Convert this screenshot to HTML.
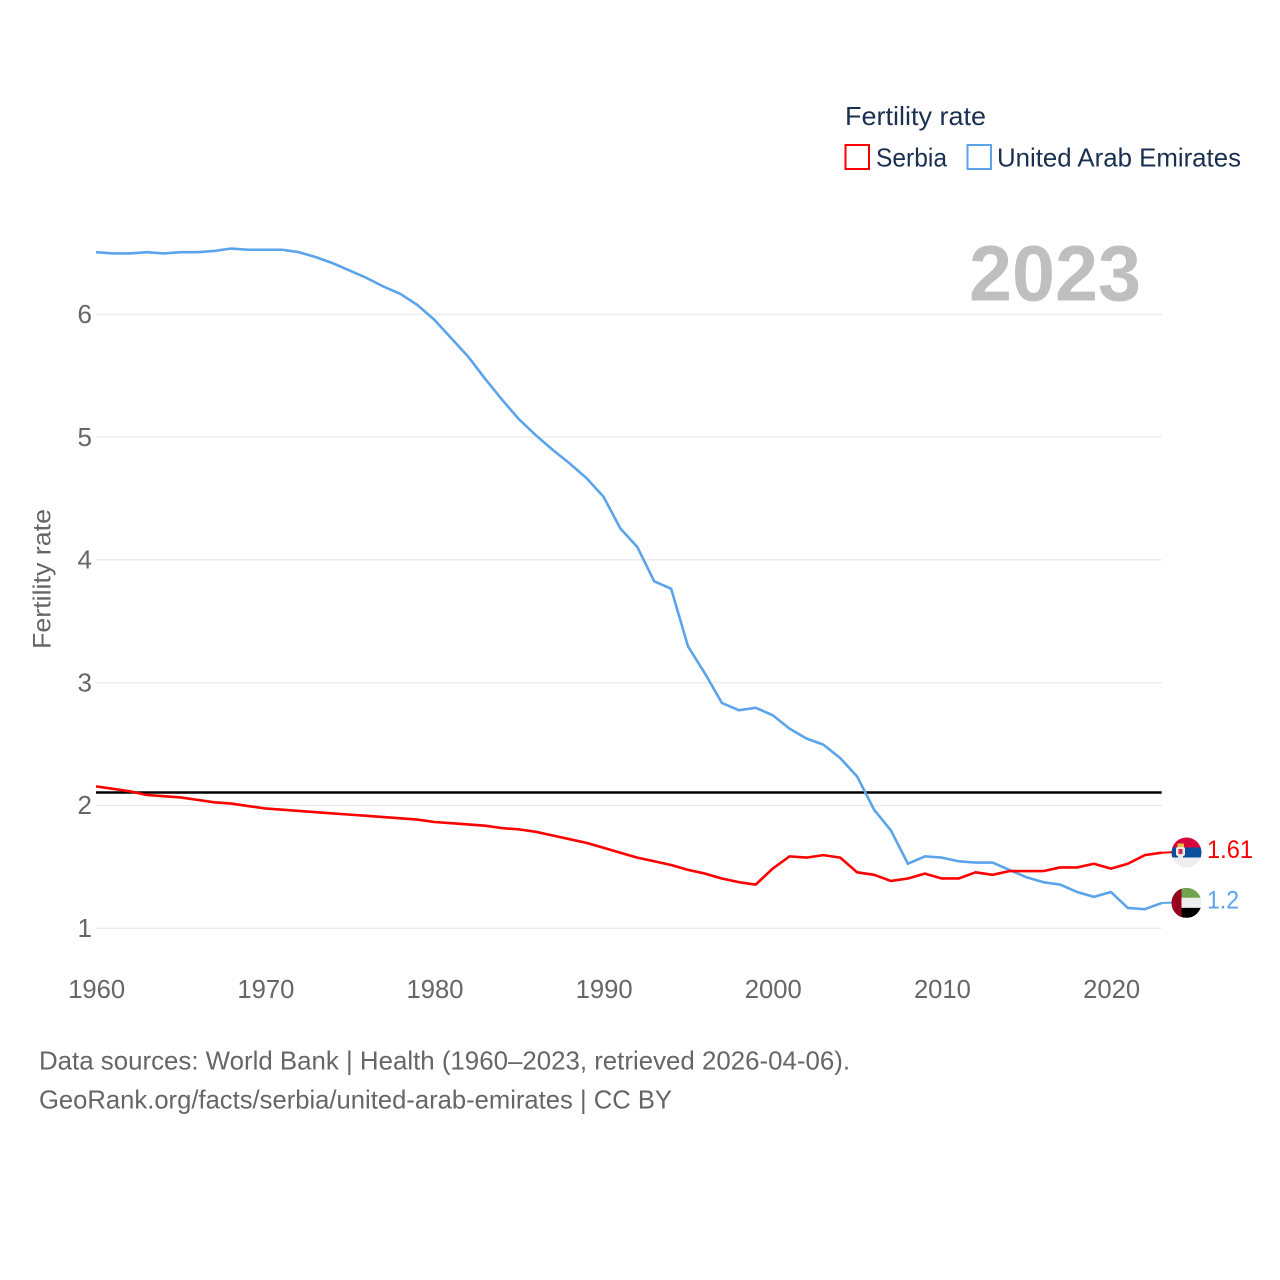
<!DOCTYPE html>
<html lang="en">
<head>
<meta charset="utf-8">
<title>Fertility rate: Serbia and United Arab Emirates</title>
<style>
html,body{margin:0;padding:0;background:#fff;width:1280px;height:1280px;overflow:hidden}
svg{display:block}
text{font-family:"Liberation Sans",sans-serif}
</style>
</head>
<body>
<svg id="chart" width="1280" height="1280" viewBox="0 0 1280 1280" xmlns="http://www.w3.org/2000/svg">
  <defs>
    <clipPath id="clip-rs"><circle cx="0" cy="0" r="15"></circle></clipPath>
    <clipPath id="clip-ae"><circle cx="0" cy="0" r="15"></circle></clipPath>
  </defs>
  <g id="grid"></g>
  <g id="yticks"></g>
  <g id="xticks"></g>

  <text transform="translate(50.500,649) rotate(-90)" font-size="25" fill="#666" textLength="140" lengthAdjust="spacingAndGlyphs">Fertility rate</text>

  <text x="969" y="300.500" font-size="79" font-weight="700" fill="#bfbfbf" textLength="172" lengthAdjust="spacingAndGlyphs">2023</text>

  <g>
    <text x="845" y="125" font-size="26" fill="#1a3050" textLength="141" lengthAdjust="spacingAndGlyphs">Fertility rate</text>
    <rect x="845.5" y="145" width="23.5" height="24" fill="#fff" stroke="#ff0000" stroke-width="2"></rect>
    <text x="876" y="166.500" font-size="26" fill="#1a3050" textLength="71" lengthAdjust="spacingAndGlyphs">Serbia</text>
    <rect x="967.5" y="145" width="23.5" height="24" fill="#fff" stroke="#5ba4ec" stroke-width="2"></rect>
    <text x="997" y="166.500" font-size="26" fill="#1a3050" textLength="244" lengthAdjust="spacingAndGlyphs">United Arab Emirates</text>
  </g>

  <g transform="translate(0,-0.7)">
    <line id="refline" stroke="#000" stroke-width="2.5"></line>
    <polyline id="line-uae" fill="none" stroke="#5ba4ec" stroke-width="2.6" stroke-linejoin="round"></polyline>
    <polyline id="line-rs" fill="none" stroke="#ff0000" stroke-width="2.6" stroke-linejoin="round"></polyline>
    <line id="conn-rs" stroke="#ff0000" stroke-width="2"></line>
    <line id="conn-ae" stroke="#5ba4ec" stroke-width="2"></line>
  </g>

  <g id="flag-rs">
    <g clip-path="url(#clip-rs)">
      <rect x="-15" y="-15" width="30" height="10" fill="#d6063a"></rect>
      <rect x="-15" y="-5" width="30" height="10" fill="#0c4f9c"></rect>
      <rect x="-15" y="5" width="30" height="10" fill="#eeeeee"></rect>
      <rect x="-9" y="-9" width="6.500" height="3.500" fill="#eec040"></rect>
      <rect x="-10.500" y="-5.500" width="9" height="9" rx="2" fill="#f4e8e8"></rect>
      <rect x="-8" y="-3.500" width="4" height="5" fill="#c8344c"></rect>
      <rect x="-8.500" y="3.500" width="5" height="2" fill="#f4e8e8"></rect>
    </g>
  </g>
  <g id="flag-ae">
    <g clip-path="url(#clip-ae)">
      <rect x="-15" y="-15" width="30" height="10" fill="#6fa34e"></rect>
      <rect x="-15" y="-5" width="30" height="10" fill="#eeeeee"></rect>
      <rect x="-15" y="5" width="30" height="10" fill="#000000"></rect>
      <rect x="-15" y="-15" width="10" height="30" fill="#97001f"></rect>
    </g>
  </g>
  <text id="value-rs" font-size="25" fill="#ff0000" textLength="46" lengthAdjust="spacingAndGlyphs"></text>
  <text id="value-ae" font-size="25" fill="#5ba4ec" textLength="32" lengthAdjust="spacingAndGlyphs"></text>

  <g>
    <text x="39" y="1069.500" font-size="26" fill="#666" textLength="811" lengthAdjust="spacingAndGlyphs">Data sources: World Bank | Health (1960–2023, retrieved 2026-04-06).</text>
    <text x="39" y="1108.500" font-size="26" fill="#666" textLength="633" lengthAdjust="spacingAndGlyphs">GeoRank.org/facts/serbia/united-arab-emirates | CC BY</text>
  </g>
</svg>
<script>
const firstYear = 1960;
const uaeValues = [6.50,6.49,6.49,6.50,6.49,6.50,6.50,6.51,6.53,6.52,6.52,6.52,6.50,6.46,6.41,6.35,6.29,6.22,6.16,6.07,5.95,5.80,5.65,5.47,5.30,5.14,5.01,4.89,4.78,4.66,4.51,4.25,4.10,3.82,3.76,3.29,3.07,2.83,2.77,2.79,2.73,2.62,2.54,2.49,2.38,2.23,1.96,1.79,1.52,1.58,1.57,1.54,1.53,1.53,1.47,1.41,1.37,1.35,1.29,1.25,1.29,1.16,1.15,1.20];
const serbiaValues = [2.15,2.13,2.11,2.08,2.07,2.06,2.04,2.02,2.01,1.99,1.97,1.96,1.95,1.94,1.93,1.92,1.91,1.90,1.89,1.88,1.86,1.85,1.84,1.83,1.81,1.80,1.78,1.75,1.72,1.69,1.65,1.61,1.57,1.54,1.51,1.47,1.44,1.40,1.37,1.35,1.48,1.58,1.57,1.59,1.57,1.45,1.43,1.38,1.40,1.44,1.40,1.40,1.45,1.43,1.46,1.46,1.46,1.49,1.49,1.52,1.48,1.52,1.59,1.61];
const yTickValues = [1,2,3,4,5,6];
const xTickYears = [1960,1970,1980,1990,2000,2010,2020];
const referenceValue = 2.1;

const NS = 'http://www.w3.org/2000/svg';
const xScale = function (year) { return 96 + (year - 1960) * 16.915; };
const yScale = function (v) { return 928.3 - (v - 1) * 122.8; };
const plotRight = xScale(2023);

const pointsFor = function (values) {
  return values.map(function (v, i) {
    return xScale(firstYear + i).toFixed(2) + ',' + yScale(v).toFixed(2);
  }).join(' ');
};

const gridGroup = document.getElementById('grid');
const yGroup = document.getElementById('yticks');
yTickValues.forEach(function (v) {
  const ln = document.createElementNS(NS, 'line');
  
  
  ln.setAttribute('x1', 96);
  ln.setAttribute('x2', plotRight);
  ln.setAttribute('y1', yScale(v));
  ln.setAttribute('y2', yScale(v));
  ln.setAttribute('stroke', '#e8e8e8');
  ln.setAttribute('stroke-width', '1.2');
  gridGroup.appendChild(ln);
  const t = document.createElementNS(NS, 'text');
  
  
  t.setAttribute('x', 92);
  t.setAttribute('y', yScale(v) + 8.7);
  t.setAttribute('text-anchor', 'end');
  t.setAttribute('font-size', '26');
  t.setAttribute('fill', '#666');
  t.textContent = String(v);
  yGroup.appendChild(t);
});

const xGroup = document.getElementById('xticks');
xTickYears.forEach(function (yr) {
  const t = document.createElementNS(NS, 'text');
  
  
  t.setAttribute('x', xScale(yr) - 28.5 + 0.7);
  t.setAttribute('y', 998);
  t.setAttribute('font-size', '26');
  t.setAttribute('fill', '#666');
  t.setAttribute('textLength', '57');
  t.setAttribute('lengthAdjust', 'spacingAndGlyphs');
  t.textContent = String(yr);
  xGroup.appendChild(t);
});

const ref = document.getElementById('refline');
ref.setAttribute('x1', 96);
ref.setAttribute('x2', plotRight);
ref.setAttribute('y1', yScale(referenceValue));
ref.setAttribute('y2', yScale(referenceValue));

document.getElementById('line-uae').setAttribute('points', pointsFor(uaeValues));
document.getElementById('line-rs').setAttribute('points', pointsFor(serbiaValues));

const placeEnd = function (values, connId, flagId, valueId) {
  const last = values[values.length - 1];
  const y = yScale(last);
  const conn = document.getElementById(connId);
  conn.setAttribute('x1', plotRight);
  conn.setAttribute('x2', 1172);
  conn.setAttribute('y1', y);
  conn.setAttribute('y2', y - 0.4);
  document.getElementById(flagId).setAttribute('transform', 'translate(1186.5,' + (y - 0.9) + ')');
  const label = document.getElementById(valueId);
  label.setAttribute('x', 1207);
  label.setAttribute('y', y + 4.7);
  label.textContent = String(last);
};
placeEnd(serbiaValues, 'conn-rs', 'flag-rs', 'value-rs');
placeEnd(uaeValues, 'conn-ae', 'flag-ae', 'value-ae');
</script>
</body>
</html>
